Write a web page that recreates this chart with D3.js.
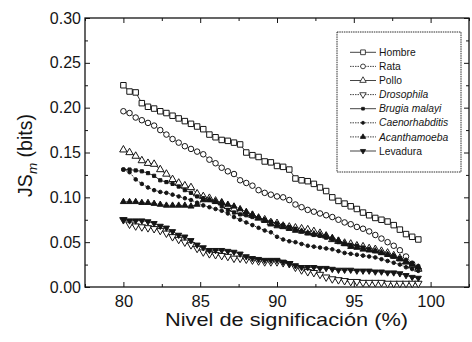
<!DOCTYPE html>
<html><head><meta charset="utf-8">
<script src="https://cdn.jsdelivr.net/npm/d3@7"></script>
<style>
html,body{margin:0;padding:0;background:#fff;}
svg{display:block;font-family:"Liberation Sans",Arial,sans-serif;}
</style></head><body>
<div id="chart"></div>
<script>
const levels = [80,80.4,80.8,81.2,81.6,82,82.4,82.8,83.2,83.6,84,84.4,84.8,85.2,85.6,86,86.4,86.8,87.2,87.6,88,88.4,88.8,89.2,89.6,90,90.4,90.8,91.2,91.6,92,92.4,92.8,93.2,93.6,94,94.4,94.8,95.2,95.6,96,96.4,96.8,97.2,97.6,98,98.4,98.8,99.2];
const hombre = [0.225,0.218,0.217,0.205,0.201,0.199,0.196,0.194,0.191,0.188,0.185,0.182,0.179,0.176,0.170,0.167,0.164,0.163,0.161,0.159,0.150,0.147,0.145,0.140,0.139,0.135,0.134,0.131,0.121,0.119,0.118,0.115,0.111,0.107,0.100,0.096,0.093,0.090,0.087,0.083,0.080,0.077,0.075,0.073,0.069,0.064,0.059,0.056,0.053];
const rata = [0.196,0.194,0.189,0.186,0.183,0.180,0.175,0.170,0.165,0.161,0.157,0.154,0.151,0.148,0.142,0.138,0.133,0.129,0.126,0.119,0.116,0.113,0.108,0.105,0.103,0.101,0.100,0.097,0.092,0.089,0.086,0.084,0.082,0.080,0.078,0.075,0.072,0.070,0.067,0.065,0.062,0.058,0.054,0.050,0.046,0.041,0.034,0.026,0.020];
const pollo = [0.153,0.150,0.146,0.141,0.138,0.137,0.131,0.126,0.120,0.116,0.113,0.111,0.104,0.101,0.099,0.096,0.094,0.090,0.087,0.084,0.082,0.080,0.077,0.075,0.072,0.071,0.068,0.067,0.066,0.065,0.064,0.062,0.060,0.057,0.053,0.051,0.049,0.048,0.046,0.045,0.043,0.042,0.040,0.038,0.035,0.032,0.028,0.024,0.020];
const drosophila = [0.075,0.070,0.068,0.067,0.066,0.065,0.063,0.060,0.056,0.053,0.050,0.047,0.043,0.039,0.037,0.036,0.035,0.034,0.032,0.032,0.031,0.030,0.029,0.028,0.028,0.028,0.027,0.026,0.022,0.019,0.017,0.016,0.014,0.011,0.009,0.008,0.007,0.006,0.006,0.005,0.005,0.005,0.005,0.004,0.004,0.004,0.004,0.004,0.004];
const brugia = [0.131,0.131,0.130,0.129,0.127,0.124,0.119,0.117,0.115,0.112,0.108,0.105,0.101,0.099,0.097,0.095,0.090,0.086,0.083,0.081,0.080,0.078,0.077,0.075,0.073,0.071,0.069,0.067,0.065,0.062,0.060,0.058,0.057,0.055,0.053,0.050,0.048,0.047,0.046,0.044,0.042,0.040,0.038,0.036,0.034,0.032,0.029,0.026,0.023];
const caenorhabditis = [0.131,0.128,0.120,0.115,0.111,0.108,0.106,0.105,0.103,0.101,0.099,0.097,0.094,0.091,0.089,0.087,0.085,0.082,0.078,0.075,0.072,0.069,0.066,0.063,0.061,0.056,0.053,0.051,0.050,0.048,0.046,0.045,0.044,0.043,0.042,0.040,0.038,0.037,0.036,0.035,0.034,0.033,0.031,0.029,0.027,0.025,0.022,0.020,0.018];
const acanthamoeba = [0.095,0.095,0.095,0.094,0.094,0.093,0.092,0.091,0.091,0.091,0.091,0.090,0.092,0.097,0.097,0.095,0.094,0.092,0.090,0.087,0.084,0.081,0.077,0.074,0.070,0.068,0.067,0.065,0.063,0.062,0.060,0.059,0.058,0.057,0.055,0.052,0.048,0.045,0.044,0.042,0.041,0.040,0.038,0.036,0.034,0.031,0.028,0.025,0.022];
const levadura = [0.075,0.074,0.074,0.074,0.073,0.071,0.068,0.066,0.062,0.058,0.056,0.052,0.047,0.044,0.041,0.041,0.041,0.040,0.039,0.037,0.034,0.032,0.031,0.030,0.030,0.030,0.028,0.026,0.024,0.022,0.022,0.022,0.021,0.021,0.020,0.019,0.019,0.019,0.018,0.018,0.018,0.017,0.017,0.016,0.016,0.015,0.013,0.011,0.010];

const seriesNames = ["Hombre","Rata","Pollo","Drosophila","Brugia malayi","Caenorhabditis","Acanthamoeba","Levadura"];
const seriesValues = [hombre,rata,pollo,drosophila,brugia,caenorhabditis,acanthamoeba,levadura];
const italicNames = [false,false,false,true,true,true,true,false];
const xTicks = [80,85,90,95,100];
const xMinor = [77.5,82.5,87.5,92.5,97.5,102.5];
const yTicks = [0,0.05,0.10,0.15,0.20,0.25,0.30];
const yMinor = [0.025,0.075,0.125,0.175,0.225,0.275];

const W = 472, H = 342;
const L = 85, R = 469, T = 18, B = 287;
const ink = "#151515";

const styles = [
  {sym: d3.symbolSquare, size: 30, fill: "#fff", rot: 0, dash: null},
  {sym: d3.symbolCircle, size: 24, fill: "#fff", rot: 0, dash: "1.5,1"},
  {sym: d3.symbolTriangle, size: 24, fill: "#fff", rot: 0, dash: null},
  {sym: d3.symbolTriangle, size: 24, fill: "#fff", rot: 180, dash: "1.5,1"},
  {sym: d3.symbolSquare, size: 10, fill: ink, rot: 0, dash: null},
  {sym: d3.symbolCircle, size: 10, fill: ink, rot: 0, dash: "1.5,1"},
  {sym: d3.symbolTriangle, size: 16, fill: ink, rot: 0, dash: "1.5,1"},
  {sym: d3.symbolTriangle, size: 16, fill: ink, rot: 180, dash: null}
];

const svg = d3.select("#chart").append("svg").attr("width", W).attr("height", H);
const x = d3.scaleLinear().domain([77.5, 102.5]).range([L, R]);
const y = d3.scaleLinear().domain([0, 0.30]).range([B, T]);

function styleAxis(g){
  g.select(".domain").remove();
  g.selectAll(".tick line").attr("stroke", ink).attr("stroke-width", 1);
  g.selectAll(".tick text").attr("fill", ink);
}

svg.append("g").attr("transform", `translate(0,${B})`)
  .call(d3.axisBottom(x).tickValues(xTicks).tickSize(-5).tickPadding(8).tickFormat(d3.format("d")))
  .call(styleAxis)
  .call(g => g.selectAll(".tick text").attr("font-size", 16.5).attr("dy", "0.71em"));
svg.append("g").attr("transform", `translate(${L},0)`)
  .call(d3.axisLeft(y).tickValues(yTicks).tickSize(-5).tickPadding(4).tickFormat(d3.format(".2f")))
  .call(styleAxis)
  .call(g => g.selectAll(".tick text").attr("font-size", 16));
svg.append("g").attr("transform", `translate(0,${T})`)
  .call(d3.axisTop(x).tickValues(xTicks).tickSize(-5).tickFormat(""))
  .call(styleAxis);
svg.append("g").attr("transform", `translate(${R},0)`)
  .call(d3.axisRight(y).tickValues(yTicks).tickSize(-5).tickFormat(""))
  .call(styleAxis);
svg.append("g").attr("transform", `translate(0,${B})`)
  .call(d3.axisBottom(x).tickValues(xMinor).tickSize(-3).tickFormat("")).call(styleAxis);
svg.append("g").attr("transform", `translate(0,${T})`)
  .call(d3.axisTop(x).tickValues(xMinor).tickSize(-3).tickFormat("")).call(styleAxis);
svg.append("g").attr("transform", `translate(${L},0)`)
  .call(d3.axisLeft(y).tickValues(yMinor).tickSize(-3).tickFormat("")).call(styleAxis);
svg.append("g").attr("transform", `translate(${R},0)`)
  .call(d3.axisRight(y).tickValues(yMinor).tickSize(-3).tickFormat("")).call(styleAxis);

svg.append("rect").attr("x", L).attr("y", T).attr("width", R - L).attr("height", B - T)
  .attr("fill", "none").attr("stroke", ink).attr("stroke-width", 1.3);

const line = d3.line().x((d, i) => x(levels[i])).y(d => y(d));
seriesValues.forEach((vals, si) => {
  const st = styles[si];
  const g = svg.append("g");
  g.append("path").datum(vals).attr("d", line).attr("fill", "none")
    .attr("stroke", ink).attr("stroke-width", 0.9)
    .attr("stroke-dasharray", st.dash);
  g.selectAll("path.m").data(vals).join("path").attr("class", "m")
    .attr("d", d3.symbol().type(st.sym).size(st.size))
    .attr("transform", (d, i) => `translate(${x(levels[i])},${y(d)}) rotate(${st.rot})`)
    .attr("fill", st.fill).attr("stroke", ink).attr("stroke-width", 1);
});

const lg = svg.append("g");
lg.append("rect").attr("x", 337).attr("y", 32).attr("width", 124).attr("height", 140)
  .attr("fill", "#fff").attr("stroke", ink).attr("stroke-width", 0.9).attr("stroke-dasharray", "1.5,0.8");
seriesNames.forEach((name, i) => {
  const st = styles[i];
  const yy = 52.3 + i * 14.1;
  lg.append("line").attr("x1", 350).attr("x2", 376).attr("y1", yy).attr("y2", yy)
    .attr("stroke", ink).attr("stroke-width", 0.8).attr("stroke-dasharray", st.dash);
  lg.append("path").attr("d", d3.symbol().type(st.sym).size(st.size * 0.75))
    .attr("transform", `translate(363,${yy}) rotate(${st.rot})`)
    .attr("fill", st.fill).attr("stroke", ink).attr("stroke-width", 0.8);
  lg.append("text").attr("x", 379).attr("y", yy).attr("dy", "0.35em")
    .attr("font-size", 10.3).attr("fill", ink)
    .attr("font-style", italicNames[i] ? "italic" : "normal").text(name);
});

svg.append("text").attr("x", 286.5).attr("y", 326).attr("text-anchor", "middle")
  .attr("font-size", 19).attr("fill", ink)
  .attr("textLength", 243).attr("lengthAdjust", "spacingAndGlyphs")
  .text("Nivel de significación (%)");
const yt = svg.append("text").attr("transform", "translate(32,155.5) rotate(-90)")
  .attr("text-anchor", "middle").attr("font-size", 19.5).attr("fill", ink);
yt.append("tspan").text("JS");
yt.append("tspan").attr("font-size", 13.5).attr("font-style", "italic").attr("dy", "0.35em").text("m");
yt.append("tspan").attr("dy", "-0.24em").text("\u00a0(bits)");
</script>
</body></html>
